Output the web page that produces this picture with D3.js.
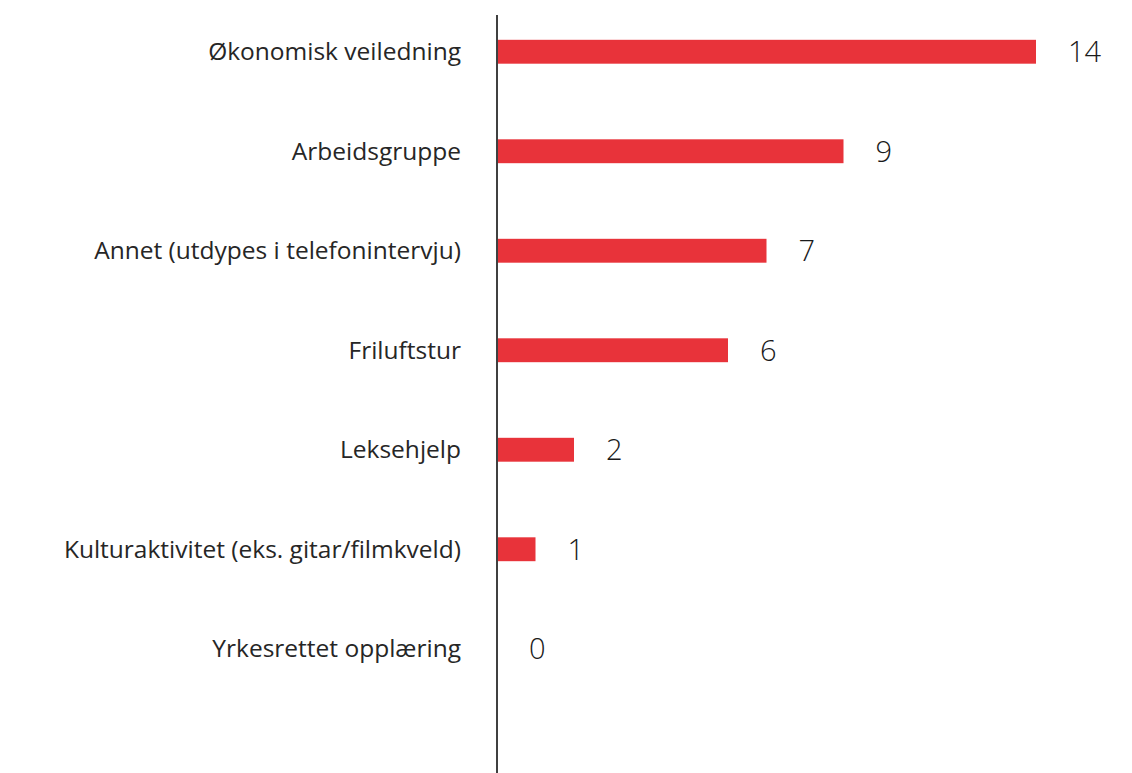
<!DOCTYPE html>
<html>
<head>
<meta charset="utf-8">
<script src="https://cdn.jsdelivr.net/npm/d3@7"></script>
<style>
  body { margin: 0; background: #fff; }
  text { font-family: "Open Sans", "Noto Sans", sans-serif; fill: #1a1a1a; }
</style>
</head>
<body>
<svg id="chart" width="1132" height="773"></svg>
<script>
const categories = [
    "Økonomisk veiledning",
    "Arbeidsgruppe",
    "Annet (utdypes i telefonintervju)",
    "Friluftstur",
    "Leksehjelp",
    "Kulturaktivitet (eks. gitar/filmkveld)",
    "Yrkesrettet opplæring"
];
const values = [14, 9, 7, 6, 2, 1, 0];

const svg = d3.select("#chart");
const axisX = 497;

const x = d3.scaleLinear()
    .domain([0, 14])
    .range([axisX, 1036]);

const y = d3.scaleBand()
    .domain(categories)
    .range([2, 698.5])
    .paddingInner(0.76)
    .paddingOuter(0.38);

const rows = categories.map((c, i) => ({ name: c, value: values[i] }));

svg.selectAll(".bar")
    .data(rows)
    .enter()
    .append("rect")
    .attr("class", "bar")
    .attr("x", x(0))
    .attr("y", d => y(d.name))
    .attr("width", d => x(d.value) - x(0))
    .attr("height", y.bandwidth())
    .attr("fill", "#e8333a");

// category labels
svg.selectAll(".cat")
    .data(rows)
    .enter()
    .append("text")
    .attr("class", "cat")
    .attr("x", 461)
    .attr("y", d => y(d.name) + y.bandwidth() / 2)
    .attr("dy", "0.35em")
    .attr("text-anchor", "end")
    .style("font-size", "24.5px")
    .style("fill", "#262626")
    .text(d => d.name);

// value labels
svg.selectAll(".val")
    .data(rows)
    .enter()
    .append("text")
    .attr("class", "val")
    .attr("x", d => x(d.value) + 32)
    .attr("y", d => y(d.name) + y.bandwidth() / 2)
    .attr("dy", "0.36em")
    .style("font-size", "29px")
    .style("font-weight", 300)
    .text(d => d.value);

// vertical axis line
svg.append("line")
    .attr("x1", axisX)
    .attr("x2", axisX)
    .attr("y1", 15)
    .attr("y2", 773)
    .attr("stroke", "#404040")
    .attr("stroke-width", 2);
</script>
</body>
</html>
